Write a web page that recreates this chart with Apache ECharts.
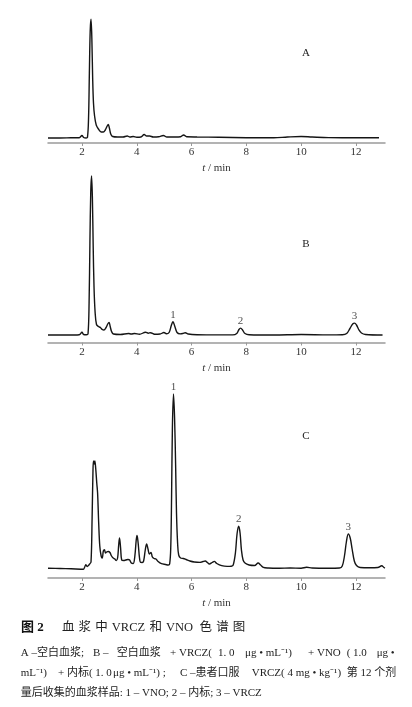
<!DOCTYPE html>
<html>
<head>
<meta charset="utf-8">
<script src="https://cdn.jsdelivr.net/npm/echarts@6/dist/echarts.min.js"></script>
<style>
html,body{margin:0;padding:0;background:#fff;}
#chart{width:412px;height:707px;}
</style>
</head>
<body>
<div id="chart"></div>
<script>
// ---------- DATA ----------
// x-axis tick values (min)
var tickValues = [2, 4, 6, 8, 10, 12];
// Panel A: blank plasma
var timeA = [0.76,1.2,1.6,1.9,2.0,2.06,2.15,2.2,2.24,2.27,2.3,2.33,2.36,2.39,2.42,2.46,2.52,2.6,2.7,2.78,2.85,2.92,2.96,3.0,3.05,3.12,3.3,3.5,3.65,3.75,3.87,4.0,4.15,4.27,4.36,4.47,4.6,4.8,4.97,5.1,5.4,5.6,5.71,5.82,6.2,7.0,8.0,9.0,9.5,10.0,10.4,11.0,12.0,12.84];
var sigA  = [5,5,5.2,5.3,7.5,5.5,5,5.5,25,70,112,123.7,105,65,40,27,18,14,11,11,13,17,18.5,15,9,6.5,6,6,7,6,6.5,5.8,6,8.5,7,7,6,6.2,7.5,6,6,6.3,8,6.2,6,5.8,5.3,5.2,6,6.5,6,5.4,5.3,5.3];
// Panel B: blank plasma + VRCZ + VNO + internal standard
var timeB = [0.76,1.5,1.9,2.0,2.06,2.16,2.22,2.26,2.29,2.32,2.35,2.38,2.41,2.44,2.48,2.53,2.6,2.67,2.74,2.8,2.88,2.94,2.99,3.03,3.08,3.15,3.4,3.7,3.8,3.92,4.1,4.32,4.42,4.5,4.65,4.85,4.99,5.08,5.18,5.26,5.32,5.39,5.47,5.58,5.68,5.77,5.88,6.2,7.0,7.5,7.65,7.73,7.79,7.86,7.95,8.1,9.0,10.0,11.0,11.5,11.66,11.78,11.88,11.95,12.02,12.1,12.2,12.35,12.97];
var sigB  = [7.5,7.5,7.8,10.3,8,7.8,8.5,40,100,150,166.5,145,95,55,30,18,16,15,13,12.5,15,18.5,20,16,11,8.5,8,9,8.5,9,8.2,10.3,9.3,9.8,8.3,8.5,10,8.7,10,17,20.7,16,10,8.6,9,9.8,8.5,7.8,7.6,7.6,9,13,14.4,12.5,9,7.8,7.5,8,7.6,7.8,9,14,18.5,19.4,17.5,13,9.5,8,7.5];
// Panel C: patient plasma sample
var timeC = [0.76,1.2,1.6,1.95,2.05,2.1,2.14,2.19,2.24,2.28,2.33,2.37,2.4,2.42,2.45,2.47,2.5,2.54,2.57,2.61,2.65,2.7,2.74,2.78,2.82,2.86,2.9,2.96,3.02,3.08,3.14,3.2,3.25,3.3,3.34,3.37,3.41,3.45,3.52,3.6,3.68,3.74,3.8,3.87,3.93,3.98,4.01,4.05,4.1,4.14,4.2,4.25,4.31,4.36,4.41,4.46,4.52,4.57,4.63,4.7,4.78,4.9,5.05,5.15,5.2,5.24,5.27,5.3,5.34,5.38,5.42,5.45,5.49,5.53,5.6,5.7,5.8,5.94,6.1,6.31,6.42,6.5,6.58,6.65,6.75,6.83,6.92,7.1,7.3,7.45,7.52,7.6,7.66,7.72,7.77,7.82,7.88,7.95,8.1,8.3,8.43,8.52,8.62,8.8,9.2,9.6,10.0,10.2,10.4,11.0,11.4,11.5,11.58,11.65,11.72,11.79,11.86,11.94,12.02,12.15,12.5,12.8,12.94,13.02,13.06];
var sigC  = [9.7,9.5,9.2,8.8,8.7,11,13.4,11.5,12.5,14,16,60,105,117,114,117,110,95,85,55,32,22,20,27,28.4,25,26,26.5,25.5,22,20,19,17.5,20,33,40,30,18,17.5,18,18.5,18,15,14.5,22,38,42.5,35,20,15.6,15.5,17,28,34,29,24,25.5,21,19.5,19,16.5,14.3,13.5,13,14,30,80,150,184,160,110,65,35,23,20,19.5,18.5,17,16,15.6,16.5,17,15.5,14,15.5,16.6,14.5,12.3,11.6,11.8,13,25,44,51.7,45,28,18,15,13,12.5,15,13,10.6,10,9.8,10,9.8,10.7,10,9.8,10,12,22,36,44,40,29,17,12.5,10.5,10.3,10.5,12.3,10.5,10];
// Peak annotations (1 - VNO, 2 - internal standard, 3 - VRCZ)
var peakNames = ['1', '2', '3'];
var peakTimeB = [5.32, 7.79, 11.95];
var peakSigB  = [20.7, 14.4, 19.4];
var peakTimeC = [5.34, 7.72, 11.72];
var peakSigC  = [184, 51.7, 44];
// Panel letters
var panelNames = ['A', 'B', 'C'];
// Texts
var axisTitle = 't / min';
var figTitleNo = '图 2';
var figTitleParts = ['血', '浆', '中', 'VRCZ', '和', 'VNO', '色', '谱', '图'];
var capLine1 = ['A –空白血浆;', 'B –', '空白血浆', '+ VRCZ(', '1. 0', 'μg • mL⁻¹)', '+ VNO', '( 1.0', 'μg •'];
var capLine2 = ['mL⁻¹)', '+ 内标( 1. 0', 'μg • mL⁻¹) ;', 'C –患者口服', 'VRCZ( 4 mg • kg⁻¹)', '第 12 个剂'];
var capLine3 = ['量后收集的血浆样品: 1 – VNO; 2 – 内标; 3 – VRCZ'];

// ---------- LAYOUT ----------
var SERIF = '"Liberation Serif","Noto Sans CJK SC",serif';
var grids = [
  {left: 48, right: 27, top: 10, height: 133},
  {left: 48, right: 27, top: 170, height: 172.5},
  {left: 48, right: 27, top: 380, height: 198}
];
var panelLabelPos = [[306, 53], [306, 244], [306, 436]];

function zip(t, v) { var o = []; for (var i = 0; i < t.length; i++) o.push([t[i], v[i]]); return o; }
function zipL(t, v, n) { var o = []; for (var i = 0; i < t.length; i++) o.push({value: [t[i], v[i]], name: n[i]}); return o; }

var xAxes = [], yAxes = [];
grids.forEach(function (g, i) {
  g.outerBoundsMode = 'none';
  g.containLabel = false;
  xAxes.push({
    gridIndex: i, type: 'value', min: 0.76, max: 13.06,
    axisLine: {lineStyle: {color: '#9a9a9a', width: 1.5}},
    axisTick: {show: true, customValues: tickValues, length: 3, lineStyle: {color: '#9a9a9a'}},
    axisLabel: {customValues: tickValues, margin: 4, color: '#333', fontFamily: SERIF, fontSize: 11},
    splitLine: {show: false},
    name: '{i|t} / min', nameLocation: 'middle', nameGap: 20,
    nameTextStyle: {color: '#333', fontFamily: SERIF, fontSize: 11,
      rich: {i: {fontStyle: 'italic', fontFamily: SERIF, fontSize: 11, color: '#333'}}}
  });
  yAxes.push({gridIndex: i, type: 'value', min: 0, max: g.height, show: false});
});

function lineSeries(idx, t, v) {
  return {type: 'line', xAxisIndex: idx, yAxisIndex: idx, data: zip(t, v), showSymbol: false,
    symbol: 'none', smooth: 0.35, lineStyle: {color: '#151515', width: 1.4}, silent: true, animation: false, z: 3};
}
function labelSeries(idx, t, v) {
  return {type: 'scatter', xAxisIndex: idx, yAxisIndex: idx, data: zipL(t, v, peakNames), symbolSize: 1,
    itemStyle: {color: 'rgba(0,0,0,0)'}, silent: true, animation: false,
    label: {show: true, position: 'top', distance: 1, formatter: '{b}', color: '#222', fontFamily: SERIF, fontSize: 11}};
}

var graphics = [];
panelNames.forEach(function (n, i) {
  graphics.push({type: 'text', x: panelLabelPos[i][0], y: panelLabelPos[i][1],
    style: {text: n, fill: '#222', font: '11px ' + SERIF, textAlign: 'center', textVerticalAlign: 'middle'}});
});
// Figure title
graphics.push({type: 'text', x: 21, y: 628, style: {text: figTitleNo, fill: '#111',
  font: 'bold 13px ' + SERIF, textAlign: 'left', textVerticalAlign: 'middle'}});
var titleX = [62, 78.6, 95.2, 111.8, 149.4, 166, 199.6, 216.2, 232.8];
figTitleParts.forEach(function (p, i) {
  graphics.push({type: 'text', x: titleX[i], y: 628, style: {text: p, fill: '#222',
    font: '12.5px ' + SERIF, textAlign: 'left', textVerticalAlign: 'middle'}});
});
function capLine(parts, xs, y) {
  parts.forEach(function (p, i) {
    graphics.push({type: 'text', x: xs[i], y: y, style: {text: p, fill: '#222',
      font: '11px ' + SERIF, textAlign: 'left', textVerticalAlign: 'middle'}});
  });
}
capLine(capLine1, [20.7, 93, 116.7, 170, 218, 245, 308, 346.7, 376.7], 653);
capLine(capLine2, [20.7, 58, 113, 180, 251.7, 346.7], 673);
capLine(capLine3, [20.7], 693);

var chart = echarts.init(document.getElementById('chart'), null, {renderer: 'canvas'});
chart.setOption({
  backgroundColor: '#fff',
  animation: false,
  grid: grids,
  xAxis: xAxes,
  yAxis: yAxes,
  series: [
    lineSeries(0, timeA, sigA),
    lineSeries(1, timeB, sigB),
    lineSeries(2, timeC, sigC),
    labelSeries(1, peakTimeB, peakSigB),
    labelSeries(2, peakTimeC, peakSigC)
  ],
  graphic: graphics
});
</script>
</body>
</html>
